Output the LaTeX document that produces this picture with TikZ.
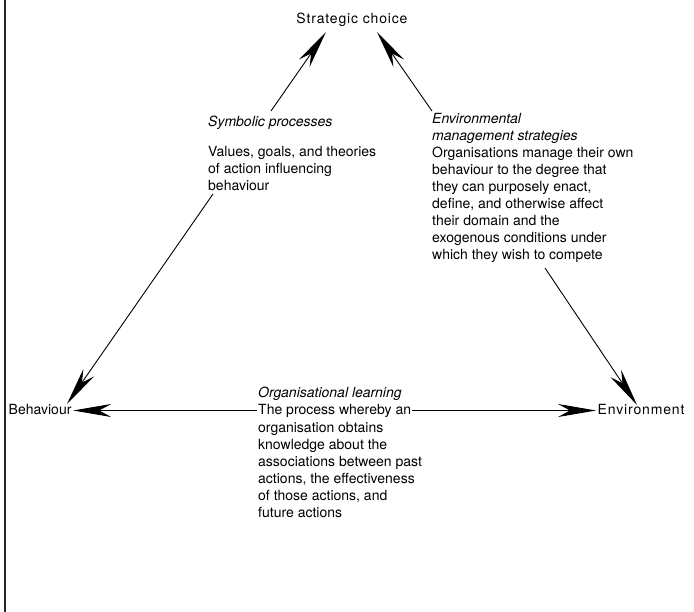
\documentclass[tikz,border=0pt]{standalone}
\usepackage{fontspec}
\setmainfont{TeX Gyre Heros}
\newfontfamily\widefont[LetterSpace=6]{TeX Gyre Heros}
\usetikzlibrary{arrows.meta}
\begin{document}
\begin{tikzpicture}[x=1pt,y=-1pt,
  lbl/.style={font=\fontsize{14}{17}\selectfont, inner sep=0pt, align=left, anchor=base west},
  conn/.style={line width=0.9pt, -{Stealth[length=38pt,width=13pt,inset=12pt]}}]
\useasboundingbox (0,0) rectangle (694,612);
\fill[white] (0,0) rectangle (694,612);
\draw[line width=2.5pt, black!85] (5,0) -- (5,612);
% nodes (anchored at the baseline of their last line)
\node[lbl, anchor=base] (sc) at (352,24) {\widefont Strategic choice};
\node[lbl] (symt) at (208,127) {\itshape Symbolic processes};
\node[lbl] (sym) at (208,191) {Values, goals, and theories\\of action influencing\\behaviour};
\node[lbl] (envt) at (432,141) {\itshape Environmental\\\itshape management strategies};
\node[lbl] (env) at (432,260) {Organisations manage their own\\behaviour to the degree that\\they can purposely enact,\\define, and otherwise affect\\their domain and the\\exogenous conditions under\\which they wish to compete};
\node[lbl] (orgt) at (258,398) {\itshape Organisational learning};
\node[lbl, inner xsep=1pt] (org1) at (257,415) {The process whereby an};
\node[lbl] (org) at (258,517) {organisation obtains\\knowledge about the\\associations between past\\actions, the effectiveness\\of those actions, and\\future actions};
\node[lbl, inner xsep=1.5pt] (beh) at (7,415) {Behaviour};
\node[lbl, inner xsep=1.5pt] (envr) at (596,415) {\widefont Environment};
% connector ends
\coordinate (a1s) at (271,111);
\coordinate (a1e) at (326,32);
\coordinate (a2s) at (432,111);
\coordinate (a2e) at (377,32);
\coordinate (a3s) at (213,194);
\coordinate (a3e) at (67,404);
\coordinate (a4s) at (545,268);
\coordinate (a4e) at (637,405);
\coordinate (hl) at (0,410.5);
% connectors
\draw[conn] (a1s) -- (a1e);
\draw[conn] (a2s) -- (a2e);
\draw[conn] (a3s) -- (a3e);
\draw[conn] (a4s) -- (a4e);
\draw[conn] (hl -| org1.west) -- (hl -| beh.east);
\draw[conn] (hl -| org1.east) -- (hl -| envr.west);
\end{tikzpicture}
\end{document}
